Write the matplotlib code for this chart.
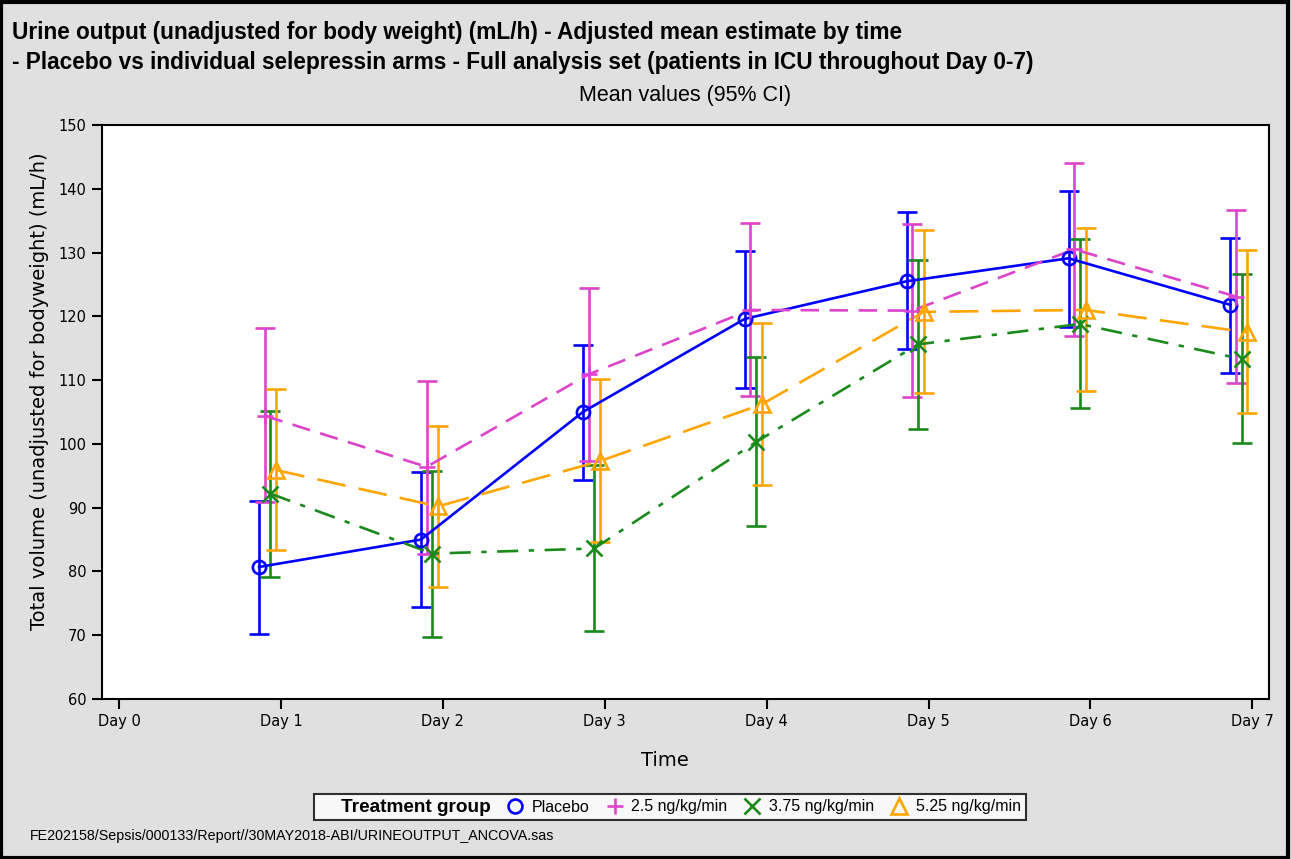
import matplotlib
matplotlib.use("Agg")
import matplotlib.pyplot as plt
from matplotlib.lines import Line2D
from matplotlib.patches import Rectangle

# data
days = [1, 2, 3, 4, 5, 6, 7]
day_labels = ["Day 0", "Day 1", "Day 2", "Day 3", "Day 4", "Day 5", "Day 6", "Day 7"]
groups = ["Placebo", "2.5 ng/kg/min", "3.75 ng/kg/min", "5.25 ng/kg/min"]

placebo_mean = [80.7, 85.0, 105.0, 119.6, 125.5, 129.1, 121.8]
placebo_lo = [70.2, 74.4, 94.3, 108.8, 114.9, 118.4, 111.1]
placebo_hi = [91.1, 95.6, 115.5, 130.2, 136.3, 139.6, 132.3]

p25_mean = [104.4, 96.4, 110.9, 121.0, 120.9, 130.5, 123.1]
p25_lo = [90.9, 82.8, 97.3, 107.5, 107.3, 116.9, 109.5]
p25_hi = [118.1, 109.9, 124.5, 134.7, 134.4, 144.1, 136.7]

p375_mean = [92.2, 82.8, 83.6, 100.3, 115.6, 118.8, 113.3]
p375_lo = [79.1, 69.7, 70.6, 87.2, 102.3, 105.7, 100.1]
p375_hi = [105.2, 95.8, 96.7, 113.6, 128.8, 132.1, 126.7]

p525_mean = [95.9, 90.2, 97.3, 106.2, 120.7, 121.0, 117.5]
p525_lo = [83.4, 77.5, 84.6, 93.6, 108.0, 108.3, 104.8]
p525_hi = [108.6, 102.8, 110.2, 119.0, 133.5, 133.8, 130.4]

means = [placebo_mean, p25_mean, p375_mean, p525_mean]
lows = [placebo_lo, p25_lo, p375_lo, p525_lo]
highs = [placebo_hi, p25_hi, p375_hi, p525_hi]

colors = ["#0000ff", "#dd44cc", "#1a8a1a", "#ffa500"]
markers = ["o", "+", "x", "^"]
styles = ["-", (0, (7, 4)), (0, (8, 4, 2, 4)), (0, (11, 5))]
offsets = [-0.135, -0.1, -0.065, -0.03]

plt.rcParams['font.family'] = ['DejaVu Sans']

fig = plt.figure(figsize=(12.91, 8.59), dpi=100)
fig.patch.set_facecolor("#e0e0e0")
ax = fig.add_axes([101.7 / 1291, 1 - 699 / 859, (1269.3 - 101.7) / 1291, (699 - 125) / 859])

for i in range(4):
    x = [d + offsets[i] for d in days]
    m = means[i]
    err = [[m[k] - lows[i][k] for k in range(len(m))], [highs[i][k] - m[k] for k in range(len(m))]]
    ax.errorbar(x, m, yerr=err, fmt="none", ecolor=colors[i], elinewidth=1.9, capsize=7.5, capthick=1.9, zorder=2)
    ax.plot(x, m, color=colors[i], linestyle=styles[i], linewidth=1.9, zorder=3)
    ax.plot(x, m, linestyle="none", marker=markers[i], markersize=11 if markers[i] != "o" else 9.5,
            markerfacecolor="none", markeredgecolor=colors[i], markeredgewidth=1.9, zorder=4)

ax.set_xlim(-0.107, 7.105)
ax.set_ylim(60, 150)
ax.set_xticks(range(8))
ax.set_xticklabels(day_labels)
ax.set_yticks(range(60, 151, 10))
ax.tick_params(labelsize=10.5, width=1.5, length=7, direction="out", pad=4)
for s in ax.spines.values():
    s.set_linewidth(1.5)
ax.set_xlabel("Time", fontsize=14)
ax.xaxis.set_label_coords((665 - 101.7) / (1269.3 - 101.7), -(760 - 699) / (699 - 125), transform=ax.transAxes)
ax.xaxis.label.set_va("center")
ax.set_ylabel("Total volume (unadjusted for bodyweight) (mL/h)", fontsize=14)
ax.yaxis.set_label_coords(-(101.7 - 40) / (1269.3 - 101.7), (699 - 391) / (699 - 125), transform=ax.transAxes)
ax.yaxis.label.set_va("center")

fig.text(12 / 1291, 1 - 33 / 859,
         "Urine output (unadjusted for body weight) (mL/h) - Adjusted mean estimate by time",
         fontsize=16.3, fontweight="bold", family="Liberation Sans", va="center")
fig.text(12 / 1291, 1 - 62 / 859,
         "- Placebo vs individual selepressin arms - Full analysis set (patients in ICU throughout Day 0-7)",
         fontsize=16.3, fontweight="bold", family="Liberation Sans", va="center")
fig.text(685 / 1291, 1 - 95 / 859, "Mean values (95% CI)", fontsize=15.5,
         family="Liberation Sans", ha="center", va="center")
fig.text(30 / 1291, 1 - 836 / 859,
         "FE202158/Sepsis/000133/Report//30MAY2018-ABI/URINEOUTPUT_ANCOVA.sas",
         fontsize=10.3, family="Liberation Sans", va="center")

handles = [Line2D([], [], linestyle="none")]
labels = ["Treatment group"]
for i in range(4):
    handles.append(Line2D([], [], linestyle="none", marker=markers[i], color=colors[i],
                          markerfacecolor="none", markersize=12 if markers[i] != "o" else 10,
                          markeredgewidth=1.9))
    labels.append(groups[i])
leg = fig.legend(handles, labels, loc="center", bbox_to_anchor=(670 / 1291, 1 - 807 / 859),
                 ncol=5, frameon=True, fancybox=False, edgecolor="black",
                 handlelength=0.6, handletextpad=0.75, columnspacing=1.25, borderpad=0.3,
                 borderaxespad=0, prop={"family": "Liberation Sans", "size": 11.5})
leg.get_frame().set_linewidth(1.5)
leg.get_texts()[0].set_fontweight("bold")
leg.get_texts()[0].set_fontsize(13.7)

fig.patches.append(Rectangle((0.001, 0.001), 0.997, 0.997, transform=fig.transFigure,
                             fill=False, edgecolor="black", linewidth=3))

fig.savefig("out.png", dpi=100, facecolor=fig.get_facecolor())
